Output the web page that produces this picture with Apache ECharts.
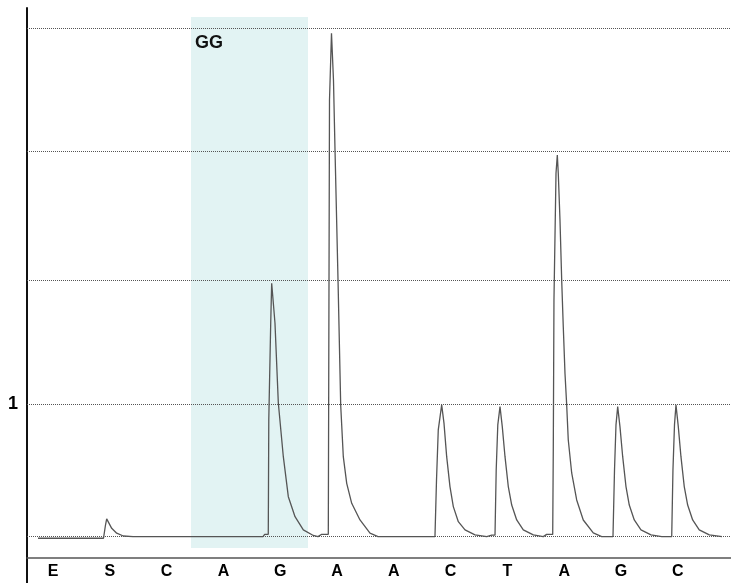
<!DOCTYPE html>
<html>
<head>
<meta charset="utf-8">
<script src="https://cdn.jsdelivr.net/npm/echarts@6/dist/echarts.min.js"></script>
<style>
  html, body { margin: 0; padding: 0; background: #fff; }
  #chart { width: 731px; height: 583px; }
</style>
</head>
<body>
<div id="chart"></div>
<script>
// Dispensation order (x-axis labels, one per flow)
const flows = ['E', 'S', 'C', 'A', 'G', 'A', 'A', 'C', 'T', 'A', 'G', 'C'];
const flowPositions = [0, 1, 2, 3, 4, 5, 6, 7, 8, 9, 10, 11];

// Pyrogram trace: time (in flow units) and signal (light units)
const traceTime = [
  -0.264, 0.889, 0.898, 0.924, 0.945, 0.977, 1.033, 1.121, 1.238, 1.408,
  3.697, 3.727, 3.790, 3.799, 3.833, 3.850, 3.879, 3.908, 3.967, 4.055,
  4.143, 4.261, 4.407, 4.583, 4.665, 4.731, 4.847, 4.864, 4.868, 4.903,
  4.912, 4.938, 4.965, 5.018, 5.065, 5.111, 5.171, 5.259, 5.405, 5.581,
  5.722, 6.725, 6.752, 6.783, 6.843, 6.884, 6.931, 6.989, 7.048, 7.136,
  7.254, 7.430, 7.636, 7.724, 7.782, 7.803, 7.831, 7.870, 7.910, 7.958,
  8.016, 8.076, 8.164, 8.280, 8.456, 8.632, 8.692, 8.798, 8.808, 8.820,
  8.856, 8.879, 8.896, 8.926, 8.956, 8.984, 9.014, 9.044, 9.072, 9.132,
  9.220, 9.336, 9.512, 9.660, 9.859, 9.886, 9.912, 9.942, 9.982, 10.030,
  10.088, 10.146, 10.234, 10.352, 10.528, 10.717, 10.893, 10.915, 10.942, 10.968,
  11.009, 11.056, 11.114, 11.174, 11.262, 11.378, 11.555, 11.778
];
const traceSignal = [
  -0.012, -0.012, 0.000, 0.088, 0.134, 0.119, 0.063, 0.026, 0.005, 0.000,
  0.000, 0.018, 0.018, 0.881, 1.614, 1.914, 1.901, 1.614, 1.010, 0.604,
  0.302, 0.151, 0.051, 0.009, 0.000, 0.018, 0.018, 0.018, 3.298, 3.803,
  3.814, 3.449, 2.921, 1.939, 0.995, 0.604, 0.403, 0.252, 0.126, 0.026,
  0.000, 0.000, 0.428, 0.806, 0.995, 0.856, 0.604, 0.378, 0.227, 0.113,
  0.051, 0.013, 0.000, 0.011, 0.011, 0.504, 0.844, 0.982, 0.831, 0.604,
  0.378, 0.239, 0.126, 0.051, 0.013, 0.000, 0.017, 0.017, 0.655, 1.788,
  2.745, 2.883, 2.745, 2.392, 1.939, 1.586, 1.234, 0.995, 0.730, 0.481,
  0.277, 0.126, 0.028, 0.000, 0.000, 0.504, 0.844, 0.982, 0.831, 0.604,
  0.378, 0.239, 0.126, 0.051, 0.013, 0.000, 0.000, 0.504, 0.844, 0.995,
  0.831, 0.604, 0.378, 0.239, 0.126, 0.051, 0.013, 0.000
];

// Horizontal reference levels (gridlines) and labelled y ticks
const gridLevels = [0, 1.000, 1.939, 2.908, 3.844];
const yTickValues = [1];

// Highlighted region ("GG")
const regionLabel = 'GG';
const regionTime = [2.430, 4.489];
const regionSignal = [-0.085, 3.925];

const traceData = traceTime.map((t, i) => [t, traceSignal[i]]);

const chart = echarts.init(document.getElementById('chart'), null, { renderer: 'canvas' });

chart.setOption({
  animation: false,
  backgroundColor: '#ffffff',
  grid: { left: 27, right: 0, top: 8, bottom: 0, outerBoundsMode: 'none', containLabel: false },
  xAxis: {
    type: 'value',
    min: -0.458,
    max: 11.937,
    offset: -25,
    axisLine: { show: true, onZero: false, lineStyle: { color: '#555', width: 1.5 } },
    axisTick: { show: false },
    splitLine: { show: false },
    axisLabel: {
      customValues: flowPositions,
      formatter: (v) => flows[Math.round(v)] || '',
      color: '#000',
      fontWeight: 'bold',
      fontSize: 16,
      fontFamily: 'Liberation Sans, Arial, sans-serif',
      margin: 6
    }
  },
  yAxis: {
    type: 'value',
    min: -0.35,
    max: 3.993,
    axisLine: { show: true, onZero: false, lineStyle: { color: '#111', width: 2 } },
    axisTick: { show: false },
    splitLine: { show: false },
    axisLabel: {
      customValues: yTickValues,
      color: '#000',
      fontWeight: 'bold',
      fontSize: 18,
      fontFamily: 'Liberation Sans, Arial, sans-serif',
      margin: 9
    }
  },
  series: [
    {
      type: 'line',
      data: [],
      z: 1,
      silent: true,
      markArea: {
        silent: true,
        itemStyle: { color: '#e2f3f3' },
        label: {
          show: true,
          position: [4, 17],
          color: '#111',
          fontWeight: 'bold',
          fontSize: 18,
          fontFamily: 'Liberation Sans, Arial, sans-serif'
        },
        data: [[
          { name: regionLabel, xAxis: regionTime[0], yAxis: regionSignal[1] },
          { xAxis: regionTime[1], yAxis: regionSignal[0] }
        ]]
      },
      markLine: {
        silent: true,
        symbol: ['none', 'none'],
        label: { show: false },
        lineStyle: { color: '#555', width: 1, type: 'dotted' },
        data: gridLevels.map(v => ({ yAxis: v }))
      }
    },
    {
      type: 'line',
      data: traceData,
      z: 3,
      showSymbol: false,
      smooth: false,
      lineStyle: { color: '#555', width: 1.3 }
    }
  ]
});
</script>
</body>
</html>
